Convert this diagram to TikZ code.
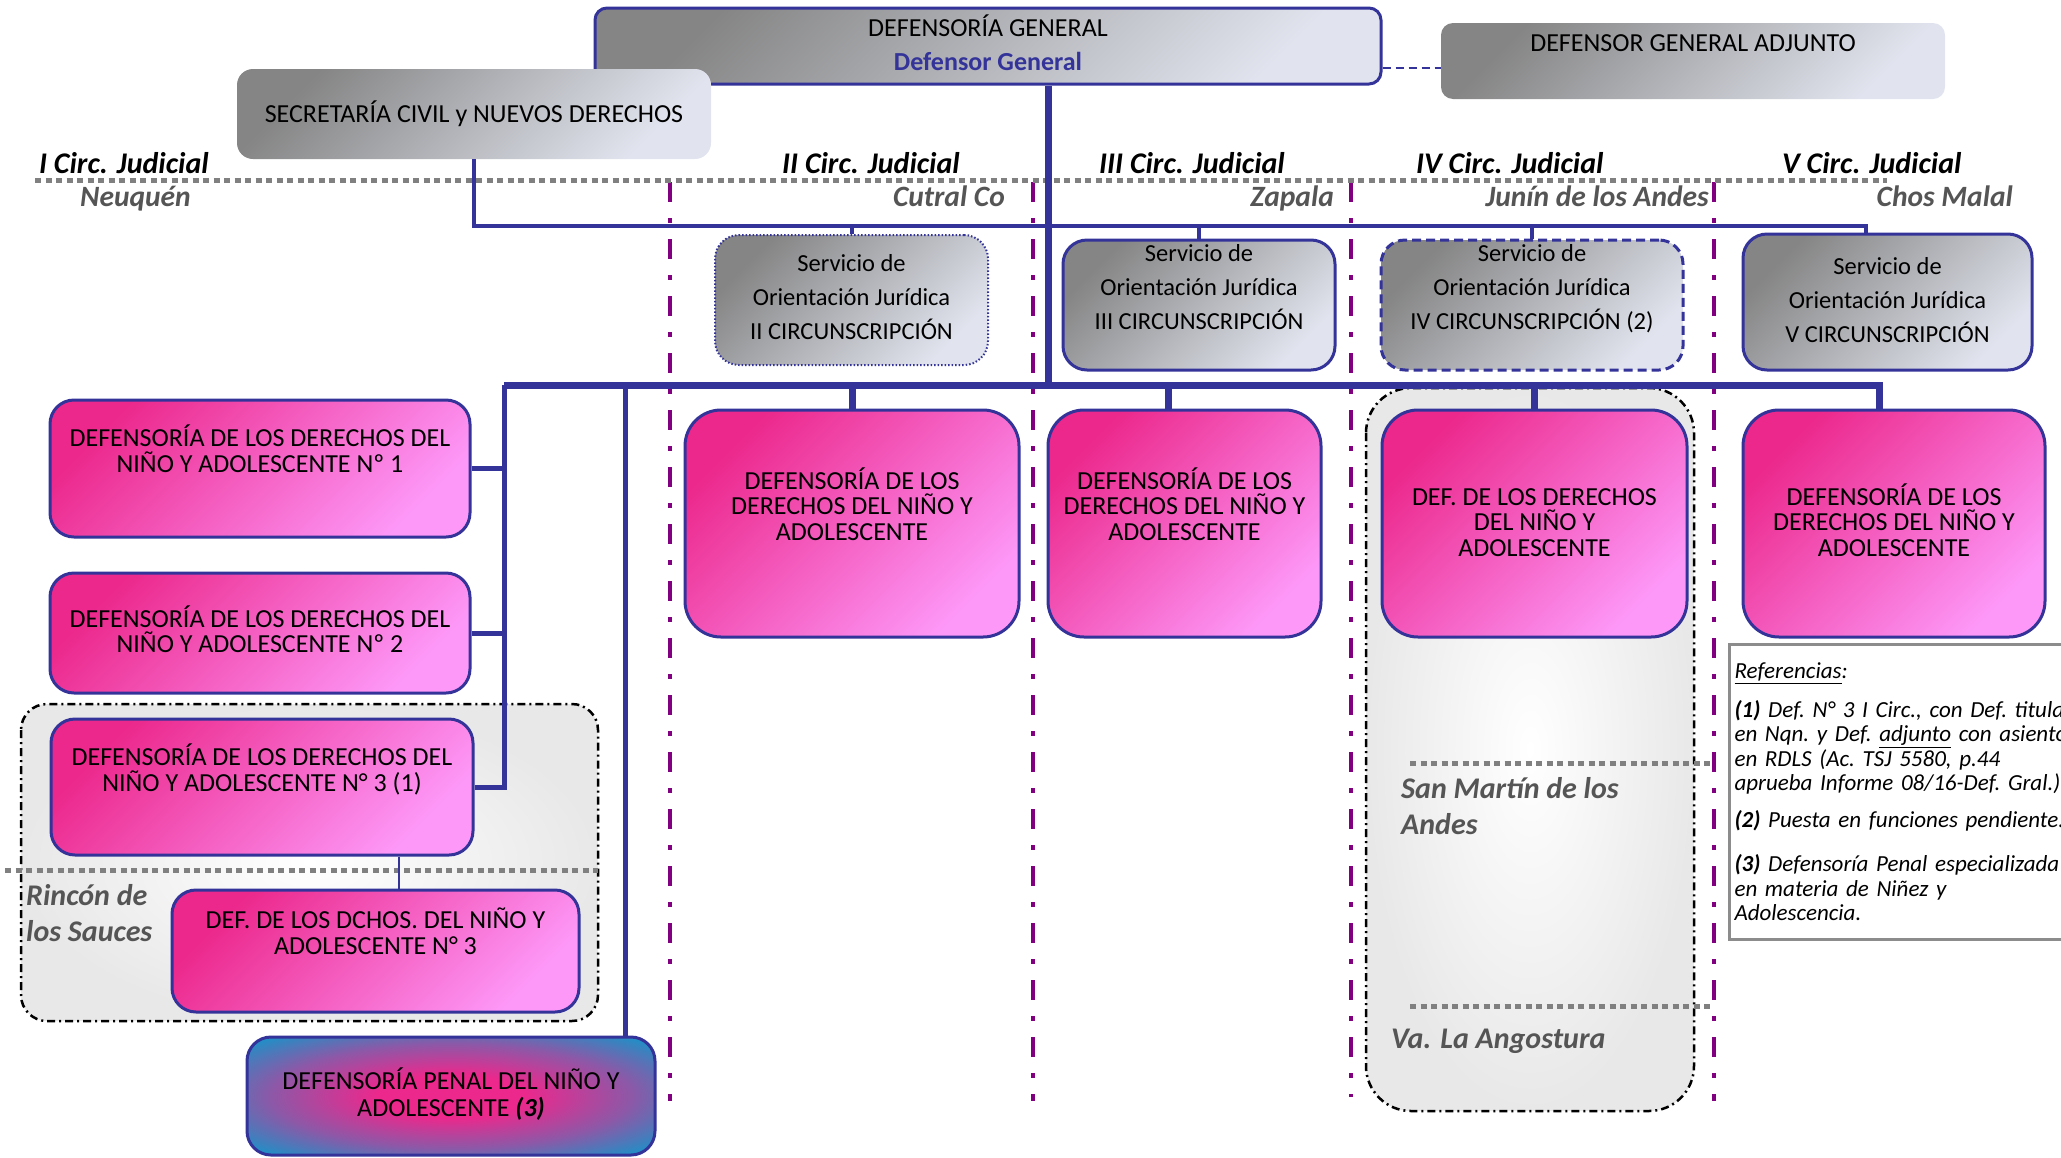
\documentclass[tikz,border=0pt]{standalone}
\usepackage{fontspec}
\setmainfont{Carlito}
\usepackage{xcolor}
\usepackage{tikz}

\definecolor{orgblue}{HTML}{333399}
\definecolor{circpurple}{HTML}{800080}
\definecolor{graydark}{HTML}{858585}
\definecolor{graylight}{HTML}{E1E4EE}
\definecolor{pinkdark}{HTML}{EC288C}
\definecolor{pinklight}{HTML}{FD98F8}
\definecolor{penalblue}{HTML}{1A92C8}
\definecolor{citygray}{HTML}{555555}

\pgfdeclareradialshading{penalshade}{\pgfpoint{0bp}{0bp}}{color(0bp)=(pinkdark); color(9bp)=(pinkdark); color(22bp)=(pinkdark!55!penalblue); color(34bp)=(penalblue); color(50bp)=(penalblue)}

\tikzstyle{head} = [rectangle, rounded corners=12pt, draw=orgblue, line width=3pt, top color=graydark, bottom color=graylight, shading angle=45, align=center, inner sep=0pt, font=\fontsize{26}{26}\selectfont]
\tikzstyle{headplain} = [rectangle, rounded corners=16pt, top color=graydark, bottom color=graylight, shading angle=45, align=center, inner sep=0pt, font=\fontsize{26}{26}\selectfont]
\tikzstyle{sojbox} = [rectangle, rounded corners=24pt, draw=orgblue, line width=3pt, top color=graydark, bottom color=graylight, shading angle=45, align=center, inner sep=0pt, font=\fontsize{24.5}{34}\selectfont]
\tikzstyle{dnabox} = [rectangle, rounded corners=24pt, draw=orgblue, line width=3pt, top color=pinkdark, bottom color=pinklight, shading angle=45, align=center, inner sep=0pt, font=\fontsize{26}{25.5}\selectfont\frenchspacing]
\tikzstyle{penalbox} = [rectangle, rounded corners=24pt, draw=orgblue, line width=3pt, shade, shading=penalshade, align=center, inner sep=0pt, font=\fontsize{26}{26.5}\selectfont]
\tikzstyle{circ} = [inner sep=0pt, font=\fontsize{30}{32}\selectfont\bfseries\itshape]
\tikzstyle{city} = [inner sep=0pt, text=citygray, font=\fontsize{29.5}{32}\selectfont\bfseries\itshape]
\tikzstyle{zonetext} = [inner sep=0pt, align=left, text=citygray, font=\fontsize{30}{35.5}\selectfont\bfseries\itshape]
\tikzstyle{bus} = [draw=orgblue, line width=4pt]
\tikzstyle{busthick} = [draw=orgblue, line width=7pt]
\tikzstyle{circline} = [draw=circpurple, line width=4.5pt, dash pattern=on 20pt off 16pt on 5pt off 16pt]
\tikzstyle{zoneline} = [draw=gray, line width=5pt, dash pattern=on 6pt off 4.5pt]
\tikzstyle{zonebox} = [draw=black, line width=2.5pt, dash pattern=on 8pt off 4pt on 2pt off 4pt, inner color=white, outer color=black!9]
\tikzset{tpos/.style={text height=#1, text depth=0pt}}

\begin{document}
\begin{tikzpicture}[x=1pt, y=-1pt]
\useasboundingbox (0,0) rectangle (2061,1157);

% zonas y circunscripciones
\draw[zonebox, rounded corners=26pt] (21,704) rectangle (598,1021);
\draw[zonebox, rounded corners=45pt] (1366,388) rectangle (1694,1111);
\foreach \x in {670,1033,1714} \draw[circline] (\x,182) -- (\x,1101);
\draw[circline] (1351,182) -- (1351,1097);
\draw[zoneline] (35,180) -- (1887,180);
\draw[zoneline] (5,870) -- (598,870);
\draw[zoneline] (1410,763) -- (1712,763);
\draw[zoneline] (1410,1006) -- (1712,1006);

\node (circI) [circ, anchor=base west] at (39,173) {I Circ. Judicial};
\node (cityI) [city, anchor=base west] at (80,206) {Neuquén};
\node (circII) [circ, anchor=base west] at (782,173) {II Circ. Judicial};
\node (cityII) [city, anchor=base east] at (1005,206) {Cutral Co};
\node (circIII) [circ, anchor=base west] at (1099,173) {III Circ. Judicial};
\node (cityIII) [city, anchor=base east] at (1334,206) {Zapala};
\node (circIV) [circ, anchor=base west] at (1416,173) {IV Circ. Judicial};
\node (cityIV) [city, anchor=base east] at (1709,206) {Junín de los Andes};
\node (circV) [circ, anchor=base west] at (1782,173) {V Circ. Judicial};
\node (cityV) [city, anchor=base east] at (2013,206) {Chos Malal};

\node (rincon) [zonetext, anchor=base west] at (26,941) {Rincón de\\los Sauces};
\node (sanmartin) [zonetext, anchor=base west] at (1401,834) {San Martín de los\\Andes};
\node (angostura) [zonetext, anchor=base west] at (1391,1048) {Va. La Angostura};

% cabecera
\node (defgral) [head, minimum width=786pt, minimum height=76pt, tpos=48.7pt] at (988,46) {DEFENSORÍA GENERAL\\[8pt]\textcolor{orgblue}{\bfseries Defensor General}};
\node (secret) [headplain, minimum width=474pt, minimum height=90pt] at (474,114) {SECRETARÍA CIVIL y NUEVOS DERECHOS};
\node (adjunto) [headplain, rounded corners=12pt, minimum width=504pt, minimum height=76pt, text height=0pt, text depth=19.3pt] at (1693,61) {DEFENSOR GENERAL ADJUNTO};

% servicios de orientacion juridica
\node (sojII) [sojbox, line width=2pt, dash pattern=on 1.5pt off 2pt, minimum width=273pt, minimum height=130pt, tpos=79.5pt] at (851.5,300) {Servicio de\\Orientación Jurídica\\II CIRCUNSCRIPCIÓN};
\node (sojIII) [sojbox, minimum width=272pt, minimum height=130pt, tpos=49.5pt] at (1199,305) {Servicio de\\Orientación Jurídica\\III CIRCUNSCRIPCIÓN};
\node (sojIV) [sojbox, dash pattern=on 9pt off 5pt, minimum width=302pt, minimum height=130pt, tpos=49.5pt] at (1532,305) {Servicio de\\Orientación Jurídica\\IV CIRCUNSCRIPCIÓN (2)};
\node (sojV) [sojbox, minimum width=289pt, minimum height=136pt, tpos=81.5pt] at (1887.5,302) {Servicio de\\Orientación Jurídica\\V CIRCUNSCRIPCIÓN};

% defensorias
\node (dnaN1) [dnabox, minimum width=420pt, minimum height=137pt, tpos=7.7pt] at (260,468.5) {DEFENSORÍA DE LOS DERECHOS DEL\\NIÑO Y ADOLESCENTE Nº 1};
\node (dnaN2) [dnabox, minimum width=420pt, minimum height=120pt, tpos=39.7pt] at (260,633) {DEFENSORÍA DE LOS DERECHOS DEL\\NIÑO Y ADOLESCENTE Nº 2};
\node (dnaN3) [dnabox, minimum width=422pt, minimum height=136pt, tpos=8.7pt] at (262,787) {DEFENSORÍA DE LOS DERECHOS DEL\\NIÑO Y ADOLESCENTE N° 3 (1)};
\node (dchos) [dnabox, minimum width=407pt, minimum height=122pt, tpos=6.7pt] at (375.5,951) {DEF. DE LOS DCHOS. DEL NIÑO Y\\ADOLESCENTE N° 3};
\node (penal) [penalbox, minimum width=408pt, minimum height=118pt, tpos=40.2pt] at (451,1096) {DEFENSORÍA PENAL DEL NIÑO Y\\ADOLESCENTE \textbf{\textit{(3)}}};

\node (dnaII) [dnabox, rounded corners=36pt, minimum width=334pt, minimum height=227pt, tpos=33.7pt] at (852,523.5) {DEFENSORÍA DE LOS\\DERECHOS DEL NIÑO Y\\ADOLESCENTE};
\node (dnaIII) [dnabox, rounded corners=36pt, minimum width=273pt, minimum height=227pt, tpos=33.7pt] at (1184.5,523.5) {DEFENSORÍA DE LOS\\DERECHOS DEL NIÑO Y\\ADOLESCENTE};
\node (dnaIV) [dnabox, rounded corners=36pt, minimum width=305pt, minimum height=227pt, tpos=65.7pt] at (1534.5,523.5) {DEF. DE LOS DERECHOS\\DEL NIÑO Y\\ADOLESCENTE};
\node (dnaV) [dnabox, rounded corners=36pt, minimum width=302pt, minimum height=227pt, tpos=65.7pt] at (1894,523.5) {DEFENSORÍA DE LOS\\DERECHOS DEL NIÑO Y\\ADOLESCENTE};

% referencias
\node (refs) [draw=black!45, line width=3pt, anchor=north west, align=left, text width=390pt, inner xsep=5pt, minimum height=295pt, font=\fontsize{23}{24.5}\selectfont\itshape\frenchspacing] at (1728,643) {\underline{Referencias}:\\[14pt]
\textbf{(1)} Def. N° 3 I Circ., con Def. titular\\en Nqn. y Def. \underline{adjunto} con asiento\\en RDLS (Ac. TSJ 5580, p.44\\aprueba Informe 08/16-Def. Gral.).\\[12pt]
\textbf{(2)} Puesta en funciones pendiente.\\[20pt]
\textbf{(3)} Defensoría Penal especializada\\en materia de Niñez y\\Adolescencia.};

% conexiones
\coordinate (busN) at (474,226);
\coordinate (busS) at (504,385);
\coordinate (busM) at (1048,385);
\coordinate (busP) at (625,385);

\draw[orgblue, line width=2.5pt, dash pattern=on 8pt off 5pt] ([yshift=-22pt]defgral.east) -- ([yshift=-22pt]defgral.east -| adjunto.west);
\draw[bus] (secret.south) -- (busN) -- ([xshift=-22pt]sojV.north |- busN) -- ([xshift=-22pt]sojV.north);
\foreach \n in {sojII,sojIII,sojIV} \draw[bus] (\n.north) -- (\n.north |- busN);
\draw[busthick] (defgral.south -| busM) -- (busM);
\draw[busthick] (busS) -- ([xshift=-15pt]dnaV.north |- busS) -- ([xshift=-15pt]dnaV.north);
\foreach \n in {dnaII,dnaIV} \draw[busthick] (\n.north) -- (\n.north |- busS);
\draw[busthick] ([xshift=-16pt]dnaIII.north) -- ([xshift=-16pt]dnaIII.north |- busS);
\draw[bus, line width=5pt] (busS) |- (dnaN3.east);
\foreach \n in {dnaN1,dnaN2} \draw[bus, line width=5pt] (\n.east) -- (\n.east -| busS);
\draw[bus, line width=5pt] (busP) -- (busP |- penal.north);
\draw[orgblue, line width=2.5pt] ([xshift=137pt]dnaN3.south) -- ([xshift=137pt]dnaN3.south |- dchos.north);

\end{tikzpicture}
\end{document}
